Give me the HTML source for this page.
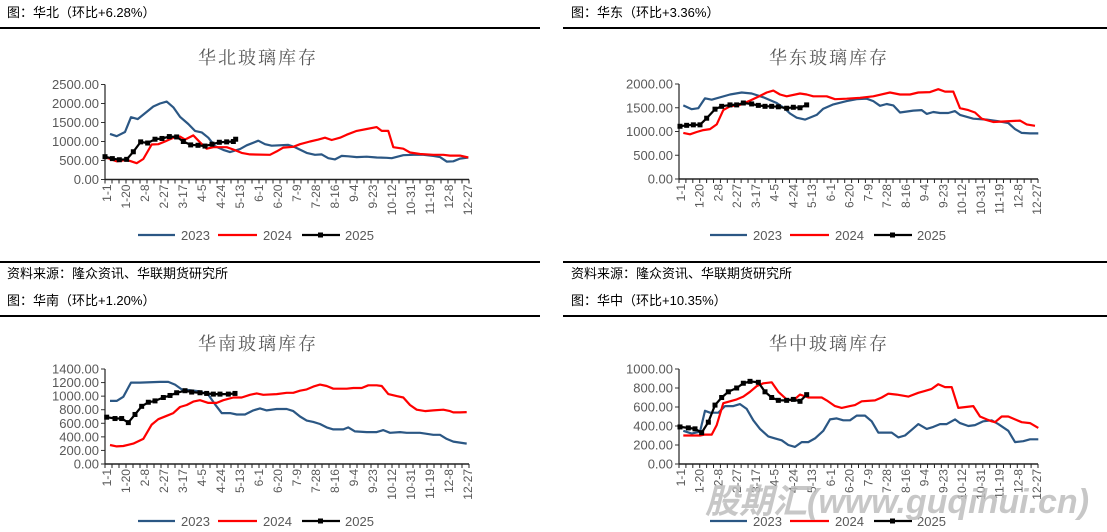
<!DOCTYPE html>
<html><head><meta charset="utf-8"><style>
body{margin:0;background:#fff;width:1107px;height:532px;overflow:hidden;font-family:"Liberation Sans","Noto Sans CJK SC",sans-serif}
</style></head><body>
<svg id="s" width="1107" height="532" xmlns="http://www.w3.org/2000/svg" style="position:absolute;left:0;top:0">
<g font-family="Liberation Sans, Noto Sans CJK SC, sans-serif" font-size="13" fill="#000">
<text x="7" y="17">图：华北（环比+6.28%）</text>
<text x="571" y="17">图：华东（环比+3.36%）</text>
<text x="7" y="278">资料来源：隆众资讯、华联期货研究所</text>
<text x="571" y="278">资料来源：隆众资讯、华联期货研究所</text>
<text x="7" y="305">图：华南（环比+1.20%）</text>
<text x="571" y="305">图：华中（环比+10.35%）</text>
</g>
<rect x="0" y="27" width="540" height="2" fill="#000"/>
<rect x="563" y="27" width="544" height="2" fill="#000"/>
<rect x="0" y="261" width="540" height="2" fill="#000"/>
<rect x="563" y="261" width="544" height="2" fill="#000"/>
<rect x="0" y="315" width="540" height="2" fill="#000"/>
<rect x="563" y="315" width="544" height="2" fill="#000"/>
<g font-family="Liberation Serif, Noto Serif CJK SC, serif" font-size="18" fill="#595959" text-anchor="middle" letter-spacing="2">
<text x="258" y="64">华北玻璃库存</text>
<text x="829" y="64">华东玻璃库存</text>
<text x="258" y="350">华南玻璃库存</text>
<text x="829" y="350">华中玻璃库存</text>
</g>
<g id="c"></g>
<text x="705" y="513" font-family="Liberation Sans, Noto Sans CJK SC, sans-serif" font-size="34" font-weight="bold" font-style="italic" fill="#bdbdbd" fill-opacity="0.85">股期汇(www.guqihui.cn)</text>
</svg>
<script>
var L=["1-1","1-20","2-8","2-27","3-17","4-5","4-24","5-13","6-1","6-20","7-9","7-28","8-16","9-4","9-23","10-12","10-31","11-19","12-8","12-27"];
var C=[
{ox:0,x0:105,x1:469,yt:84.5,yb:179.5,max:2500,step:500,ly:235,lx:138,
b:[[330,1200],[350,1140],[375,1250],[393,1640],[413,1590],[440,1780],[460,1920],[480,2000],[500,2050],[520,1900],[540,1650],[565,1460],[585,1280],[605,1240],[625,1100],[645,880],[670,780],[690,720],[720,800],[740,900],[775,1020],[795,930],[815,890],[865,910],[885,850],[920,700],[945,650],[965,660],[985,560],[1005,530],[1025,620],[1045,610],[1070,590],[1100,600],[1130,580],[1160,570],[1175,560],[1210,640],[1240,650],[1270,650],[1300,620],[1320,590],[1340,470],[1360,480],[1380,550],[1405,580]],
r:[[315,590],[350,480],[375,510],[390,490],[410,430],[430,540],[455,920],[475,930],[495,1000],[520,1100],[540,1130],[555,1050],[580,1160],[600,980],[620,810],[640,850],[680,850],[700,790],[725,700],[750,660],[810,650],[830,740],[850,840],[880,860],[900,930],[930,1000],[955,1050],[975,1100],[995,1040],[1020,1100],[1040,1180],[1070,1280],[1100,1330],[1130,1380],[1145,1280],[1165,1280],[1180,850],[1210,810],[1230,710],[1260,670],[1300,650],[1330,650],[1350,630],[1380,630],[1405,580]],
k:[[315,600],[337,550],[358,520],[380,530],[400,730],[422,990],[443,960],[465,1060],[486,1080],[508,1130],[530,1120],[550,1000],[572,910],[594,900],[615,880],[636,930],[658,980],[680,990],[700,1000],[707,1060]]},
{ox:560,x0:679,x1:1038,yt:84,yb:179,max:2000,step:500,ly:235,lx:710,
b:[[370,1550],[395,1470],[415,1490],[435,1700],[455,1670],[510,1780],[545,1820],[575,1800],[610,1720],[650,1600],[675,1480],[690,1380],[710,1290],[735,1250],[770,1350],[790,1480],[820,1570],[860,1640],[890,1680],[920,1690],[940,1640],[960,1540],[980,1580],[1000,1550],[1020,1400],[1060,1440],[1085,1450],[1100,1370],[1120,1410],[1140,1390],[1165,1390],[1185,1430],[1200,1350],[1240,1270],[1280,1250],[1320,1210],[1345,1180],[1365,1050],[1385,970],[1410,960],[1435,960]],
r:[[370,970],[390,940],[410,990],[430,1030],[450,1050],[470,1150],[490,1450],[510,1530],[540,1560],[570,1650],[600,1750],[620,1820],[640,1860],[660,1780],[680,1740],[720,1800],[740,1780],[760,1740],[800,1740],[825,1680],[860,1690],[900,1710],[940,1740],[990,1820],[1020,1780],[1050,1780],[1075,1820],[1110,1830],[1135,1890],[1155,1840],[1180,1840],[1200,1490],[1225,1450],[1245,1400],[1265,1270],[1300,1200],[1330,1210],[1350,1220],[1380,1230],[1400,1150],[1425,1120]],
k:[[360,1110],[380,1130],[400,1140],[420,1140],[440,1280],[465,1470],[485,1530],[510,1560],[530,1560],[550,1600],[575,1580],[595,1550],[615,1530],[635,1530],[655,1520],[680,1490],[700,1510],[720,1500],[740,1560]]},
{ox:0,x0:105,x1:469,yt:369,yb:464,max:1400,step:200,ly:521,lx:138,
b:[[330,930],[350,930],[370,990],[393,1200],[420,1200],[480,1210],[505,1210],[525,1170],[545,1100],[600,1070],[625,1020],[645,880],[665,750],[690,750],[710,730],[735,730],[760,790],[780,820],[800,790],[830,810],[860,810],[880,780],[900,700],[920,640],[940,620],[960,590],[980,540],[1000,510],[1030,510],[1045,540],[1065,480],[1100,470],[1130,470],[1150,500],[1170,460],[1200,470],[1220,460],[1260,460],[1300,430],[1320,430],[1340,370],[1360,330],[1400,300]],
r:[[330,280],[350,260],[370,265],[400,300],[430,370],[455,580],[475,660],[500,710],[520,750],[540,840],[560,870],[580,920],[600,940],[625,900],[650,900],[670,940],[700,980],[725,980],[750,1020],[770,1040],[790,1020],[830,1030],[860,1050],[880,1050],[900,1080],[920,1100],[940,1140],[960,1170],[980,1150],[1000,1110],[1040,1110],[1060,1120],[1085,1120],[1105,1160],[1130,1160],[1145,1150],[1165,1030],[1190,1000],[1210,980],[1230,870],[1250,800],[1275,780],[1300,790],[1330,800],[1350,780],[1360,760],[1380,760],[1400,765]],
k:[[320,690],[345,670],[365,670],[385,610],[405,730],[425,850],[445,910],[465,930],[490,980],[510,1010],[530,1050],[555,1080],[575,1060],[600,1050],[620,1040],[640,1030],[660,1030],[685,1030],[705,1040]]},
{ox:560,x0:679,x1:1038,yt:369,yb:464,max:1000,step:200,ly:521,lx:710,
b:[[370,350],[395,320],[420,340],[435,560],[450,540],[475,540],[495,610],[520,610],[540,630],[560,580],[580,460],[600,370],[625,290],[645,270],[665,250],[685,200],[705,180],[725,230],[745,230],[765,270],[790,350],[810,470],[830,480],[850,460],[870,460],[890,510],[915,510],[935,450],[955,330],[975,330],[995,330],[1015,280],[1035,300],[1055,360],[1075,420],[1100,370],[1120,390],[1140,420],[1160,420],[1185,470],[1200,430],[1225,400],[1245,410],[1270,450],[1295,460],[1315,420],[1345,350],[1365,230],[1390,240],[1410,260],[1435,260]],
r:[[370,300],[400,300],[420,300],[435,310],[455,310],[470,410],[490,640],[510,660],[530,680],[550,710],[570,760],[590,820],[610,850],[635,860],[655,760],[680,680],[700,670],[720,730],[745,700],[785,700],[800,670],[825,610],[845,590],[870,610],[885,620],[905,660],[945,670],[965,700],[985,740],[1010,730],[1045,710],[1075,750],[1095,770],[1115,790],[1135,840],[1155,810],[1175,810],[1195,590],[1240,610],[1260,500],[1280,470],[1295,450],[1305,440],[1325,500],[1345,500],[1365,470],[1385,440],[1410,430],[1435,380]],
k:[[360,390],[385,380],[405,370],[425,330],[445,440],[465,620],[485,700],[505,760],[530,800],[550,850],[570,870],[595,860],[615,760],[635,700],[655,670],[680,670],[700,680],[720,660],[740,730]]}
];
var h="";
C.forEach(function(c){
 var Y=function(v){return c.yb-(v/c.max)*(c.yb-c.yt)};
 var X=function(z){return c.ox+z/3};
 // y ticks
 for(var v=0;v<=c.max;v+=c.step){var y=Y(v);
  h+='<text x="'+(c.x0-6)+'" y="'+(y+4.5)+'" text-anchor="end" font-size="13" fill="#595959" font-family="Liberation Sans, sans-serif">'+v.toFixed(2)+'</text>';
  h+='<line x1="'+(c.x0-4)+'" y1="'+y+'" x2="'+c.x0+'" y2="'+y+'" stroke="#333"/>';}
 h+='<line x1="'+c.x0+'" y1="'+c.yt+'" x2="'+c.x0+'" y2="'+c.yb+'" stroke="#222" stroke-width="1.2"/>';
 h+='<line x1="'+c.x0+'" y1="'+c.yb+'" x2="'+c.x1+'" y2="'+c.yb+'" stroke="#222" stroke-width="1.5"/>';
 for(var i=0;i<=52;i++){var x=c.x0+i*(c.x1-c.x0)/52;h+='<line x1="'+x+'" y1="'+c.yb+'" x2="'+x+'" y2="'+(c.yb+4)+'" stroke="#222"/>';}
 for(var j=0;j<20;j++){var x=c.x0+2+j*(c.x1-c.x0-3)/19;
  h+='<text transform="translate('+(x+4)+','+(c.yb+5)+') rotate(-90)" text-anchor="end" font-size="12" fill="#595959" font-family="Liberation Sans, sans-serif">'+L[j]+'</text>';}
 function pl(a,col,w){return '<polyline fill="none" stroke="'+col+'" stroke-width="'+w+'" stroke-linejoin="round" points="'+a.map(function(p){return X(p[0]).toFixed(1)+','+Y(p[1]).toFixed(1)}).join(' ')+'"/>';}
 h+=pl(c.b,"#2b5784",2.2)+pl(c.r,"#ff0000",2.2)+pl(c.k,"#000",2.2);
 c.k.forEach(function(p){h+='<rect x="'+(X(p[0])-2.5)+'" y="'+(Y(p[1])-2.5)+'" width="5" height="5" fill="#000"/>';});
 var lx=c.lx,ly=c.ly;
 h+='<line x1="'+lx+'" y1="'+ly+'" x2="'+(lx+37)+'" y2="'+ly+'" stroke="#2b5784" stroke-width="2.2"/>';
 h+='<text x="'+(lx+43)+'" y="'+(ly+5)+'" font-size="13" fill="#595959" font-family="Liberation Sans, sans-serif">2023</text>';
 h+='<line x1="'+(lx+80)+'" y1="'+ly+'" x2="'+(lx+119)+'" y2="'+ly+'" stroke="#ff0000" stroke-width="2.2"/>';
 h+='<text x="'+(lx+125)+'" y="'+(ly+5)+'" font-size="13" fill="#595959" font-family="Liberation Sans, sans-serif">2024</text>';
 h+='<line x1="'+(lx+164)+'" y1="'+ly+'" x2="'+(lx+202)+'" y2="'+ly+'" stroke="#000" stroke-width="2.2"/>';
 h+='<rect x="'+(lx+180)+'" y="'+(ly-2.5)+'" width="5" height="5" fill="#000"/>';
 h+='<text x="'+(lx+207)+'" y="'+(ly+5)+'" font-size="13" fill="#595959" font-family="Liberation Sans, sans-serif">2025</text>';
});
document.getElementById("c").innerHTML=h;
</script>
</body></html>
